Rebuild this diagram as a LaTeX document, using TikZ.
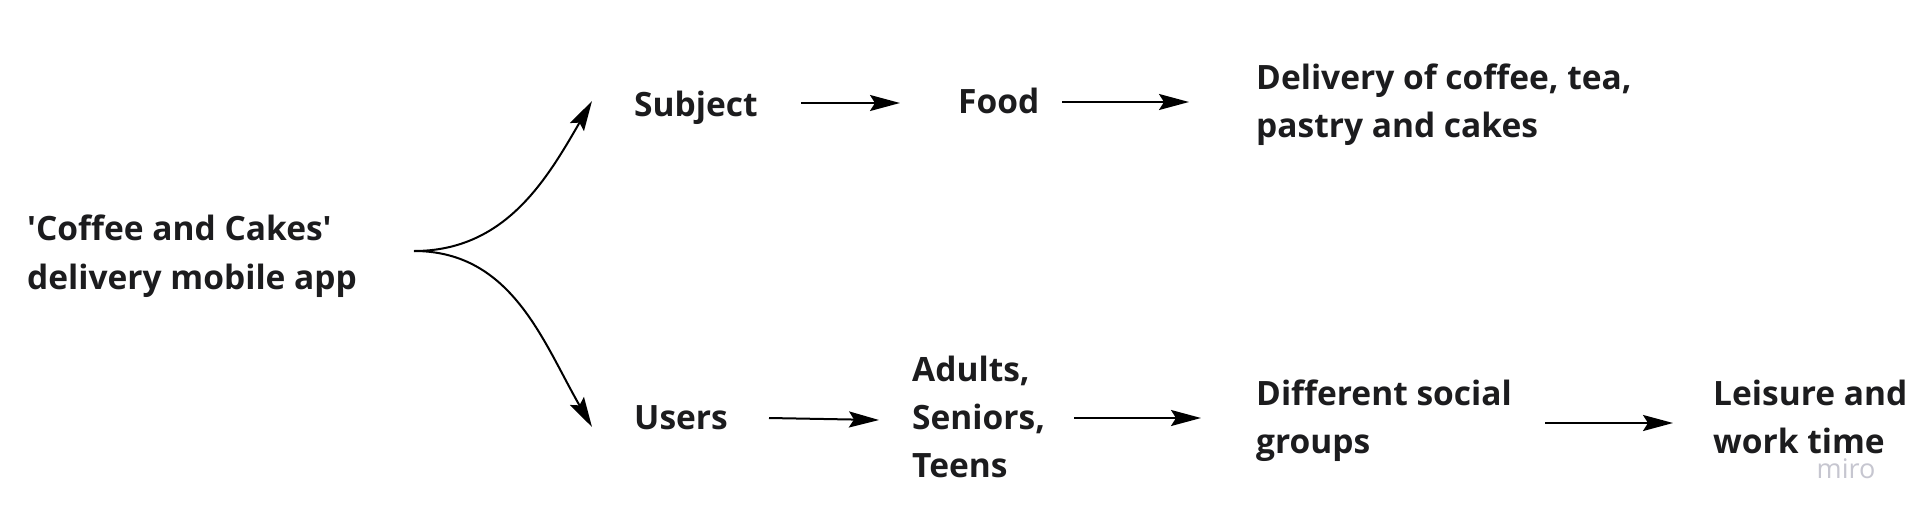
\documentclass[tikz,border=0pt]{standalone}
\usepackage{fontspec}
\setmainfont{Open Sans}[Ligatures=TeXOff]
\usetikzlibrary{arrows.meta}
\definecolor{ink}{HTML}{1C1C1E}
\definecolor{wm}{HTML}{C6C6D0}
\tikzset{
  lbl/.style={anchor=west, inner sep=0pt, align=left, text=ink,
    font=\fontsize{33.5}{48}\selectfont\bfseries},
  arr/.style={draw=black, line width=2pt,
    -{Stealth[length=30pt, width=16pt, inset=5pt]}},
}
\begin{document}
\begin{tikzpicture}[x=1pt,y=-1pt]
\useasboundingbox[fill=white] (0,0) rectangle (1920,520);
\node[lbl, font=\fontsize{33.5}{49}\selectfont\bfseries] (app) at (27,256) {'Coffee and Cakes'\\delivery mobile app};
\node[lbl] (subject) at (634,108) {Subject};
\node[lbl] (food) at (958,101) {Food};
\node[lbl] (deliv) at (1256,105) {Delivery of coffee, tea,\\pastry and cakes};
\node[lbl] (users) at (634,418) {Users};
\node[lbl] (adults) at (912,417) {Adults,\\Seniors,\\Teens};
\node[lbl] (groups) at (1256,421) {Different social\\groups};
\node[lbl] (leisure) at (1713,417) {Leisure and\\work time};
\node[anchor=center, inner sep=0pt, text=wm, font=\fontsize{27}{27}\selectfont] (miro) at (1846,469) {miro};

\coordinate (fork) at (414,251);
\coordinate (subjIn) at (592,101);
\coordinate (usersIn) at (592,427);
\coordinate (subjOut) at (801,103);
\coordinate (foodIn) at (900,103);
\coordinate (foodOut) at (1062,102);
\coordinate (delivIn) at (1189,102);
\coordinate (usersOut) at (769,418);
\coordinate (adultsIn) at (879,420);
\coordinate (adultsOut) at (1074,418);
\coordinate (groupsIn) at (1201,418);
\coordinate (groupsOut) at (1545,423);
\coordinate (leisureIn) at (1673,423);

\draw[arr] (fork) to[out=0, in=-120] (subjIn);
\draw[arr] (fork) to[out=0, in=120] (usersIn);
\draw[arr] (subjOut) -- (foodIn);
\draw[arr] (foodOut) -- (delivIn);
\draw[arr] (usersOut) -- (adultsIn);
\draw[arr] (adultsOut) -- (groupsIn);
\draw[arr] (groupsOut) -- (leisureIn);
\end{tikzpicture}
\end{document}
